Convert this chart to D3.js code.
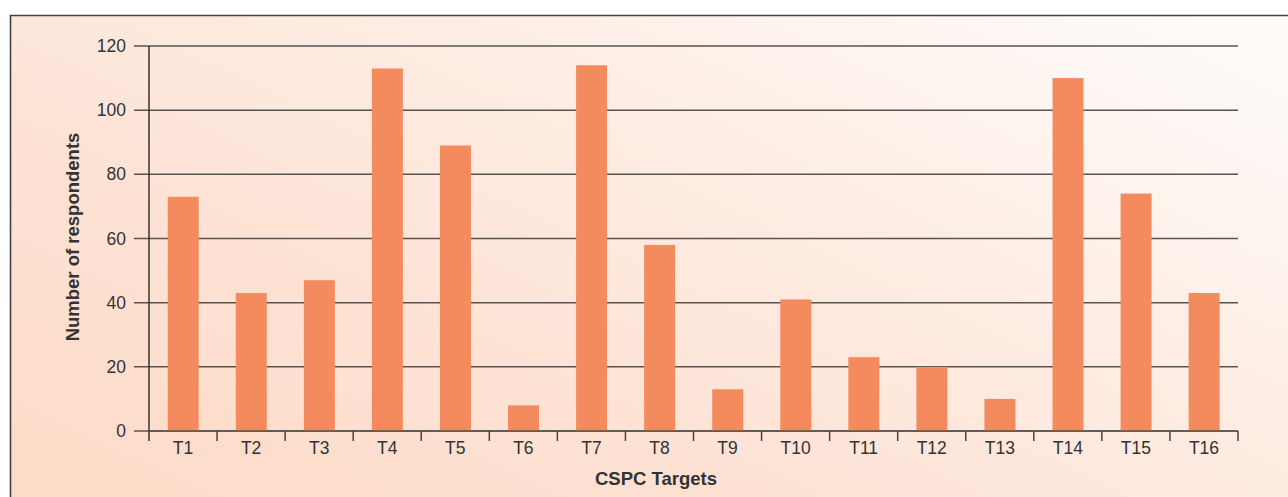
<!DOCTYPE html>
<html>
<head>
<meta charset="utf-8">
<script src="https://cdn.jsdelivr.net/npm/d3@7"></script>
<style>
  html, body { margin: 0; padding: 0; background: #fff; }
  svg { display: block; }
  text { font-family: "Liberation Sans", Arial, Helvetica, sans-serif; fill: #333; }
  .title { font-weight: bold; }
</style>
</head>
<body>
<svg width="1288" height="497"></svg>
<script>
var targets = ["T1","T2","T3","T4","T5","T6","T7","T8","T9","T10","T11","T12","T13","T14","T15","T16"];
var respondents = [73, 43, 47, 113, 89, 8, 114, 58, 13, 41, 23, 20, 10, 110, 74, 43];
var yTicks = [0, 20, 40, 60, 80, 100, 120];

var svg = d3.select("svg");
var W = 1288, H = 497;

// background panel with soft gradient
var defs = svg.append("defs");
var grad = defs.append("linearGradient").attr("id", "bg")
  .attr("x1", "0%").attr("y1", "90%").attr("x2", "100%").attr("y2", "10%");
grad.append("stop").attr("offset", "0%").attr("stop-color", "#fcdbc8");
grad.append("stop").attr("offset", "30%").attr("stop-color", "#fde2d4");
grad.append("stop").attr("offset", "70%").attr("stop-color", "#fdefe7");
grad.append("stop").attr("offset", "100%").attr("stop-color", "#fefbf9");

svg.append("rect").attr("x", 10).attr("y", 15).attr("width", W - 10).attr("height", H - 15)
  .attr("fill", "url(#bg)");
svg.append("path").attr("d", "M10.5," + H + "V15.5H" + W)
  .attr("fill", "none").attr("stroke", "#444").attr("stroke-width", 1.6);

var plotL = 149, plotR = 1238, plotT = 46, plotB = 431;

var x = d3.scaleBand().domain(targets).range([plotL, plotR]).paddingInner(0).paddingOuter(0);
var y = d3.scaleLinear().domain([0, 120]).range([plotB, plotT]);

var g = svg.append("g");

// gridlines + y labels
g.selectAll(".grid").data(yTicks).enter().append("line")
  .attr("x1", plotL - 15).attr("x2", plotR)
  .attr("y1", function(d) { return y(d); }).attr("y2", function(d) { return y(d); })
  .attr("stroke", "#555").attr("stroke-width", 1.5);

g.selectAll(".ylab").data(yTicks).enter().append("text")
  .attr("x", plotL - 23).attr("y", function(d) { return y(d); })
  .attr("dy", "0.35em").attr("text-anchor", "end")
  .style("font-size", "17.5px")
  .text(function(d) { return d; });

// bars
g.selectAll(".bar").data(respondents).enter().append("rect")
  .attr("x", function(d, i) { return x(targets[i]) + x.bandwidth() * 0.275; })
  .attr("width", x.bandwidth() * 0.455)
  .attr("y", function(d) { return y(d); })
  .attr("height", function(d) { return y(0) - y(d); })
  .attr("fill", "#f48b5e");

// y axis line
g.append("line").attr("x1", plotL).attr("x2", plotL).attr("y1", plotT).attr("y2", plotB + 10)
  .attr("stroke", "#333").attr("stroke-width", 1.5);

// x axis baseline + boundary ticks
g.append("line").attr("x1", plotL).attr("x2", plotR).attr("y1", plotB).attr("y2", plotB)
  .attr("stroke", "#555").attr("stroke-width", 1.5);
var bounds = targets.map(function(t) { return x(t); }).concat([plotR]);
g.selectAll(".xtick").data(bounds.slice(1)).enter().append("line")
  .attr("x1", function(d) { return d; }).attr("x2", function(d) { return d; })
  .attr("y1", plotB).attr("y2", plotB + 10)
  .attr("stroke", "#444").attr("stroke-width", 1.5);

g.selectAll(".xlab").data(targets).enter().append("text")
  .attr("x", function(d) { return x(d) + x.bandwidth() / 2; })
  .attr("y", 454).attr("text-anchor", "middle")
  .style("font-size", "17.5px")
  .text(function(d) { return d; });

// axis titles
svg.append("text").attr("class", "title")
  .attr("x", 656).attr("y", 485).attr("text-anchor", "middle")
  .style("font-size", "18.5px")
  .text("CSPC Targets");

svg.append("text").attr("class", "title")
  .attr("transform", "translate(79,237) rotate(-90)")
  .attr("text-anchor", "middle")
  .style("font-size", "18.5px")
  .text("Number of respondents");
</script>
</body>
</html>
